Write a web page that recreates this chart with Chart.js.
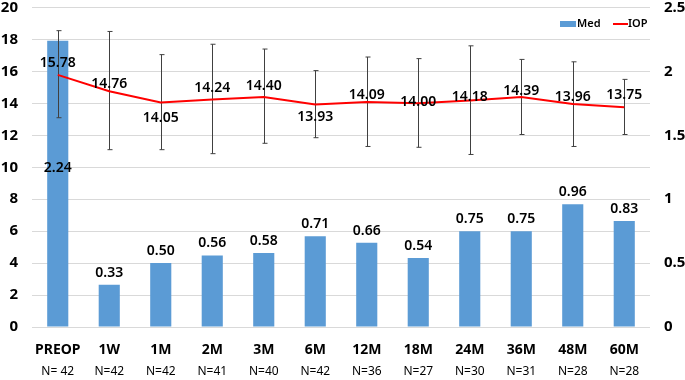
<!DOCTYPE html>
<html>
<head>
<meta charset="utf-8">
<script src="https://cdn.jsdelivr.net/npm/chart.js@4.4.1/dist/chart.umd.min.js"></script>
<style>
    body { margin: 0; background: #fff; }
    #wrap { width: 685px; height: 380px; }
</style>
</head>
<body>
<div id="wrap"><canvas id="medIopChart"></canvas></div>
<script>
var labels = ['PREOP', '1W', '1M', '2M', '3M', '6M', '12M', '18M', '24M', '36M', '48M', '60M'];
var nLabels = ['N= 42', 'N=42', 'N=42', 'N=41', 'N=40', 'N=42', 'N=36', 'N=27', 'N=30', 'N=31', 'N=28', 'N=28'];
var medValues = [2.24, 0.33, 0.50, 0.56, 0.58, 0.71, 0.66, 0.54, 0.75, 0.75, 0.96, 0.83];
var iopValues = [15.78, 14.76, 14.05, 14.24, 14.40, 13.93, 14.09, 14.00, 14.18, 14.39, 13.96, 13.75];
var iopHigh = [18.55, 18.5, 17.05, 17.7, 17.4, 16.05, 16.9, 16.8, 17.6, 16.75, 16.6, 15.5];
var iopLow = [13.1, 11.1, 11.1, 10.85, 11.5, 11.85, 11.3, 11.25, 10.8, 12.05, 11.3, 12.05];

// label nudges (px) so the numbers sit where the original put them
var iopLabelDy = [-12, -7, 15, -12, -11, 13, -7, -1, -3, -6, -7, -12];

var FONT = "'Noto Sans', sans-serif";

var extrasPlugin = {
    id: 'extras',
    beforeDatasetDraw: function(chart, args) {
        if (args.index !== 1) return;
        var ctx = chart.ctx;
        var x = chart.scales.x, y = chart.scales.y;
        ctx.save();
        ctx.strokeStyle = '#404040';
        ctx.lineWidth = 1;
        for (var i = 0; i < labels.length; i++) {
            var px = Math.round(x.getPixelForValue(i)) + 0.5;
            var top = y.getPixelForValue(iopHigh[i]);
            var bot = y.getPixelForValue(iopLow[i]);
            ctx.beginPath();
            ctx.moveTo(px, top); ctx.lineTo(px, bot);
            ctx.moveTo(px - 2, top); ctx.lineTo(px + 3, top);
            ctx.moveTo(px - 2, bot); ctx.lineTo(px + 3, bot);
            ctx.stroke();
        }
        ctx.restore();
    },
    afterDatasetsDraw: function(chart) {
        var ctx = chart.ctx;
        var barMeta = chart.getDatasetMeta(0);
        var lineMeta = chart.getDatasetMeta(1);
        ctx.save();
        ctx.fillStyle = '#000';
        ctx.textAlign = 'center';
        ctx.textBaseline = 'middle';
        ctx.font = '600 14px ' + FONT;
        barMeta.data.forEach(function(bar, i) {
            var ly = i === 0 ? (bar.y + bar.base) / 2 - 16 : bar.y - 12;
            ctx.fillText(medValues[i].toFixed(2), bar.x, ly);
        });
        lineMeta.data.forEach(function(pt, i) {
            ctx.fillText(iopValues[i].toFixed(2), pt.x, pt.y + iopLabelDy[i]);
        });

        // N counts under the category labels
        ctx.font = '12px ' + FONT;
        var x = chart.scales.x;
        for (var i = 0; i < nLabels.length; i++) {
            ctx.fillText(nLabels[i], x.getPixelForValue(i), 372);
        }

        // legend inside the plot, top right
        ctx.textAlign = 'left';
        ctx.font = '600 11px ' + FONT;
        ctx.fillStyle = '#5B9BD5';
        ctx.fillRect(560, 21, 16, 6);
        ctx.fillStyle = '#000';
        ctx.fillText(chart.data.datasets[0].label, 577, 24);
        ctx.strokeStyle = '#FF0000';
        ctx.lineWidth = 2;
        ctx.beginPath();
        ctx.moveTo(613, 24); ctx.lineTo(628, 24);
        ctx.stroke();
        ctx.fillText(chart.data.datasets[1].label, 628, 24);
        ctx.restore();
    }
};

var ctx = document.getElementById('medIopChart').getContext('2d');
var medIopChart = new Chart(ctx, {
    type: 'bar',
    data: {
        labels: labels,
        datasets: [{
            type: 'bar',
            label: 'Med',
            data: medValues,
            yAxisID: 'y1',
            backgroundColor: '#5B9BD5',
            barPercentage: 0.41,
            categoryPercentage: 1,
            order: 2
        }, {
            type: 'line',
            label: 'IOP',
            data: iopValues,
            yAxisID: 'y',
            borderColor: '#FF0000',
            borderWidth: 2,
            pointRadius: 0,
            tension: 0,
            fill: false,
            order: 1
        }]
    },
    options: {
        responsive: true,
        maintainAspectRatio: false,
        animation: false,
        layout: { padding: { top: 7, left: 0, right: 0, bottom: 0 } },
        plugins: {
            legend: { display: false },
            tooltip: { enabled: false }
        },
        scales: {
            x: {
                grid: { display: false, drawTicks: false },
                border: { display: false },
                ticks: {
                    color: '#000',
                    padding: 15,
                    maxRotation: 0,
                    font: { family: FONT, size: 14, weight: 'bold' }
                },
                afterFit: function(scale) { scale.height = 53; }
            },
            y: {
                position: 'left',
                min: 0,
                max: 20,
                grid: { color: '#D9D9D9', tickColor: 'transparent', tickLength: 14 },
                border: { display: false },
                ticks: {
                    stepSize: 2,
                    color: '#000',
                    padding: 0,
                    font: { family: FONT, size: 15, weight: 'bold', lineHeight: 1 }
                },
                afterFit: function(scale) { scale.width = 32; }
            },
            y1: {
                position: 'right',
                min: 0,
                max: 2.5,
                grid: { drawOnChartArea: false, tickColor: 'transparent', tickLength: 14 },
                border: { display: false },
                ticks: {
                    stepSize: 0.5,
                    color: '#000',
                    padding: 0,
                    font: { family: FONT, size: 15, weight: 'bold', lineHeight: 1 },
                    callback: function(v) { return String(v); }
                },
                afterFit: function(scale) { scale.width = 35; }
            }
        }
    },
    plugins: [extrasPlugin]
});
</script>
</body>
</html>
